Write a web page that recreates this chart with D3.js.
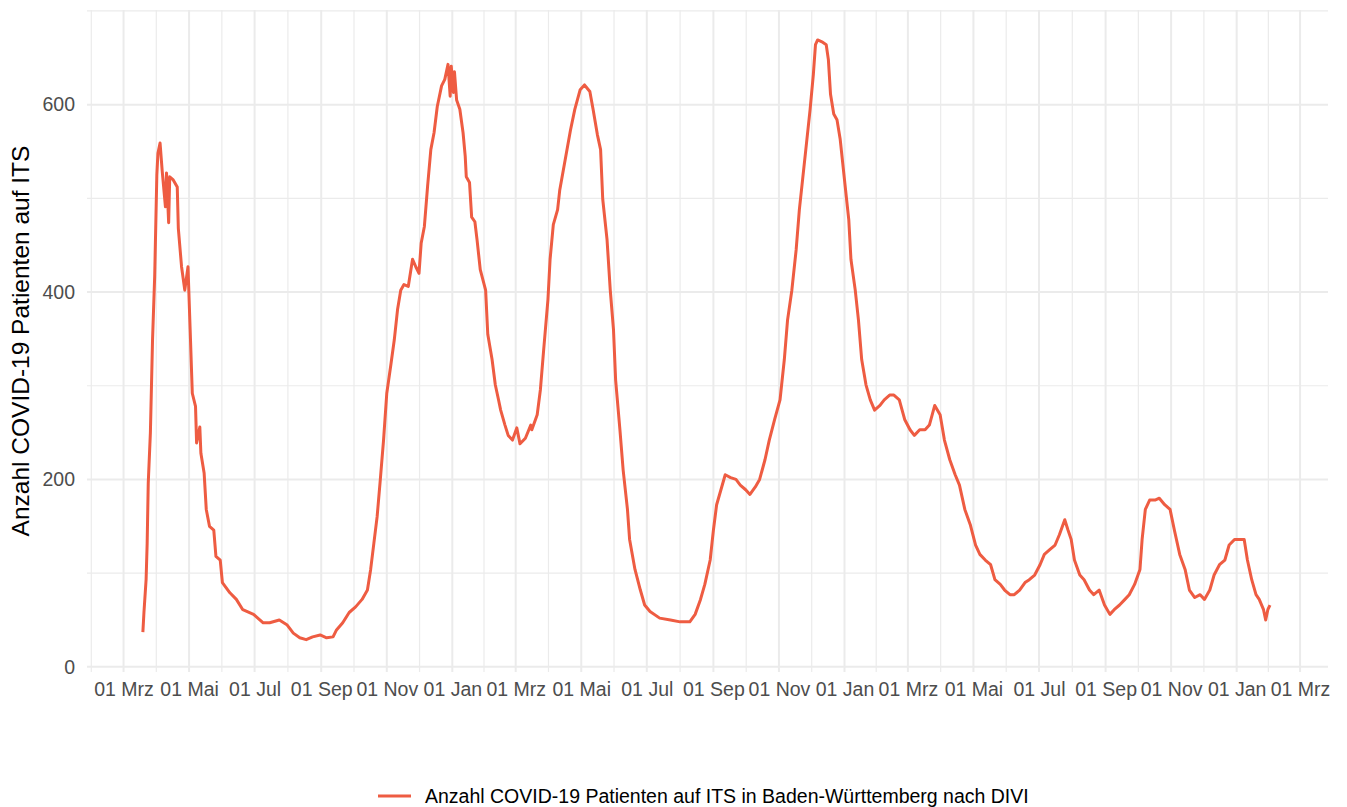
<!DOCTYPE html>
<html>
<head>
<meta charset="utf-8">
<script src="https://cdn.jsdelivr.net/npm/d3@7"></script>
<style>
  body { margin: 0; background: #fff; }
  svg { font-family: "Liberation Sans", Arial, sans-serif; }
</style>
</head>
<body>
<svg id="chart" width="1347" height="807"></svg>
<script>
// values (DIVI, Baden-Württemberg)
const dates = [
  "2020-03-19","2020-03-20","2020-03-22","2020-03-23","2020-03-24","2020-03-26","2020-03-28","2020-03-30",
  "2020-04-01","2020-04-02","2020-04-04","2020-04-06","2020-04-09","2020-04-10","2020-04-12","2020-04-13",
  "2020-04-16","2020-04-20","2020-04-21","2020-04-24","2020-04-27","2020-04-30","2020-05-02","2020-05-04",
  "2020-05-07","2020-05-08","2020-05-11","2020-05-12","2020-05-15","2020-05-17","2020-05-20","2020-05-24",
  "2020-05-26","2020-05-30","2020-06-01","2020-06-08","2020-06-14","2020-06-20","2020-06-30","2020-07-09",
  "2020-07-15","2020-07-24","2020-07-31","2020-08-06","2020-08-12","2020-08-18","2020-08-24","2020-08-31",
  "2020-09-06","2020-09-12","2020-09-15","2020-09-21","2020-09-27","2020-10-03","2020-10-09","2020-10-14",
  "2020-10-17","2020-10-20","2020-10-23","2020-10-26","2020-10-29","2020-11-01","2020-11-05","2020-11-08",
  "2020-11-11","2020-11-14","2020-11-17","2020-11-21","2020-11-25","2020-11-28","2020-12-01","2020-12-03",
  "2020-12-06","2020-12-09","2020-12-12","2020-12-15","2020-12-18","2020-12-22","2020-12-25","2020-12-28",
  "2020-12-30","2020-12-31","2021-01-02","2021-01-03","2021-01-05","2021-01-08","2021-01-11","2021-01-13",
  "2021-01-14","2021-01-17","2021-01-19","2021-01-22","2021-01-24","2021-01-27","2021-02-01","2021-02-03",
  "2021-02-07","2021-02-10","2021-02-13","2021-02-15","2021-02-19","2021-02-22","2021-02-26","2021-03-02",
  "2021-03-05","2021-03-10","2021-03-15","2021-03-16","2021-03-21","2021-03-24","2021-03-27","2021-03-31",
  "2021-04-02","2021-04-05","2021-04-09","2021-04-11","2021-04-16","2021-04-21","2021-04-25","2021-04-30",
  "2021-05-04","2021-05-09","2021-05-12","2021-05-16","2021-05-19","2021-05-21","2021-05-25","2021-05-28",
  "2021-05-31","2021-06-02","2021-06-06","2021-06-09","2021-06-13","2021-06-15","2021-06-20","2021-06-25",
  "2021-06-29","2021-07-04","2021-07-13","2021-07-23","2021-08-01","2021-08-10","2021-08-15","2021-08-20",
  "2021-08-24","2021-08-29","2021-09-01","2021-09-04","2021-09-08","2021-09-12","2021-09-17","2021-09-22",
  "2021-09-26","2021-10-01","2021-10-05","2021-10-10","2021-10-14","2021-10-19","2021-10-23","2021-10-28",
  "2021-11-02","2021-11-06","2021-11-09","2021-11-13","2021-11-17","2021-11-20","2021-11-23","2021-11-26",
  "2021-11-30","2021-12-03","2021-12-05","2021-12-07","2021-12-11","2021-12-15","2021-12-17","2021-12-19",
  "2021-12-22","2021-12-25","2021-12-28","2022-01-02","2022-01-05","2022-01-07","2022-01-11","2022-01-14",
  "2022-01-17","2022-01-21","2022-01-25","2022-01-29","2022-02-03","2022-02-07","2022-02-12","2022-02-16",
  "2022-02-21","2022-02-26","2022-03-03","2022-03-07","2022-03-12","2022-03-17","2022-03-21","2022-03-26",
  "2022-03-31","2022-04-04","2022-04-09","2022-04-14","2022-04-18","2022-04-23","2022-04-28","2022-05-03",
  "2022-05-07","2022-05-12","2022-05-17","2022-05-21","2022-05-26","2022-05-30","2022-06-04","2022-06-08",
  "2022-06-13","2022-06-18","2022-06-22","2022-06-27","2022-07-02","2022-07-06","2022-07-11","2022-07-16",
  "2022-07-20","2022-07-25","2022-07-28","2022-07-31","2022-08-03","2022-08-08","2022-08-12","2022-08-17",
  "2022-08-21","2022-08-26","2022-08-31","2022-09-05","2022-09-09","2022-09-14","2022-09-19","2022-09-23",
  "2022-09-28","2022-10-03","2022-10-05","2022-10-08","2022-10-12","2022-10-17","2022-10-21","2022-10-26",
  "2022-10-31","2022-11-04","2022-11-09","2022-11-14","2022-11-18","2022-11-23","2022-11-28","2022-12-02",
  "2022-12-07","2022-12-11","2022-12-16","2022-12-21","2022-12-25","2022-12-30","2023-01-04","2023-01-08",
  "2023-01-11","2023-01-15","2023-01-19","2023-01-22","2023-01-26","2023-01-28","2023-01-30","2023-02-01"
];
const patients = [
  37, 58, 93, 132, 196, 250, 349, 417,
  525, 548, 559, 529, 491, 527, 474, 523,
  520, 512, 468, 427, 402, 427, 360, 292,
  278, 239, 256, 228, 207, 168, 150, 146,
  118, 114, 90, 79, 72, 61, 56, 47,
  47, 50, 45, 36, 31, 29, 32, 34,
  31, 32, 39, 47, 58, 64, 72, 82,
  104, 132, 160, 200, 242, 292, 324, 349,
  381, 402, 408, 406, 435, 427, 420, 452,
  470, 513, 552, 570, 598, 620, 627, 643,
  609, 641, 613, 635, 605, 595, 570, 545,
  523, 517, 480, 475, 456, 424, 402, 355,
  328, 301, 285, 274, 258, 247, 242, 255,
  238, 244, 258, 253, 269, 296, 338, 392,
  435, 472, 488, 509, 541, 573, 595, 616,
  621, 614, 595, 568, 552, 499, 456, 402,
  360, 306, 253, 210, 168, 136, 104, 82,
  66, 59, 52, 50, 48, 48, 56, 72,
  88, 114, 146, 173, 189, 205, 202, 200,
  194, 189, 184, 192, 200, 221, 242, 264,
  285, 328, 370, 402, 445, 488, 520, 552,
  595, 632, 664, 669, 667, 664, 648, 611,
  590, 584, 563, 509, 477, 435, 402, 370,
  328, 301, 285, 274, 279, 285, 290, 290,
  285, 264, 253, 247, 253, 253, 258, 279,
  269, 242, 221, 205, 194, 168, 152, 130,
  120, 114, 109, 93, 88, 82, 77, 77,
  82, 90, 93, 98, 109, 120, 125, 130,
  141, 157, 146, 136, 114, 98, 93, 82,
  77, 82, 66, 56, 61, 66, 72, 77,
  88, 104, 136, 168, 178, 178, 180, 173,
  168, 146, 120, 104, 82, 74, 77, 72,
  82, 98, 109, 114, 130, 136, 136, 136,
  114, 93, 77, 72, 61, 50, 61, 66
];
const yTicks = [0, 200, 400, 600];
const yMinor = [100, 300, 500, 700];
const monthsDe = ["Jan","Feb","Mrz","Apr","Mai","Jun","Jul","Aug","Sep","Okt","Nov","Dez"];
const seriesName = "Anzahl COVID-19 Patienten auf ITS in Baden-Württemberg nach DIVI";
const yTitle = "Anzahl COVID-19 Patienten auf ITS";

const parse = d3.timeParse("%Y-%m-%d");
const data = dates.map((d, i) => ({date: parse(d), value: patients[i]}));

const de = d3.timeFormatLocale({
  dateTime: "%A, %e. %B %Y, %X", date: "%d.%m.%Y", time: "%H:%M:%S",
  periods: ["AM", "PM"],
  days: ["Sonntag","Montag","Dienstag","Mittwoch","Donnerstag","Freitag","Samstag"],
  shortDays: ["So","Mo","Di","Mi","Do","Fr","Sa"],
  months: ["Januar","Februar","März","April","Mai","Juni","Juli","August","September","Oktober","November","Dezember"],
  shortMonths: monthsDe
});
const fmt = de.format("%d %b");

const svg = d3.select("#chart");
const pLeft = 87, pRight = 1328, pTop = 10, pBottom = 672;

const x = d3.scaleTime()
    .domain([parse("2020-01-27"), parse("2023-03-27")])
    .range([pLeft, pRight]);
const y = d3.scaleLinear()
    .domain([-5.5, 701])
    .range([pBottom, pTop]);

// grid
const grid = svg.append("g");
const majorX = d3.timeMonth.every(2).range(parse("2020-01-01"), parse("2023-05-02"));
const minorX = d3.pairs(majorX).map(([a, b]) => new Date((+a + +b) / 2))
    .filter(d => d >= x.domain()[0] && d <= x.domain()[1]);
const majorIn = majorX.filter(d => d >= x.domain()[0] && d <= x.domain()[1]);

grid.selectAll(".ymin").data(yMinor).enter().append("line")
    .attr("x1", pLeft).attr("x2", pRight)
    .attr("y1", d => y(d)).attr("y2", d => y(d))
    .attr("stroke", "#ebebeb").attr("stroke-width", 1.2);
grid.selectAll(".xmin").data(minorX).enter().append("line")
    .attr("x1", d => x(d)).attr("x2", d => x(d))
    .attr("y1", pTop).attr("y2", pBottom)
    .attr("stroke", "#ebebeb").attr("stroke-width", 1.2);
grid.selectAll(".ymaj").data(yTicks).enter().append("line")
    .attr("x1", pLeft).attr("x2", pRight)
    .attr("y1", d => y(d)).attr("y2", d => y(d))
    .attr("stroke", "#ebebeb").attr("stroke-width", 2);
grid.selectAll(".xmaj").data(majorIn).enter().append("line")
    .attr("x1", d => x(d)).attr("x2", d => x(d))
    .attr("y1", pTop).attr("y2", pBottom)
    .attr("stroke", "#ebebeb").attr("stroke-width", 2);

// axes (labels only, ggplot minimal look)
const xAxis = svg.append("g")
    .attr("transform", `translate(0,${pBottom + 2})`)
    .call(d3.axisBottom(x).tickValues(majorIn).tickFormat(fmt).tickSize(0).tickPadding(8));
xAxis.select(".domain").remove();
xAxis.selectAll("text")
    .attr("font-size", "19.5px")
    .attr("font-family", "Liberation Sans, Arial, sans-serif")
    .attr("fill", "#4d4d4d");

const yAxis = svg.append("g")
    .attr("transform", `translate(${pLeft},0)`)
    .call(d3.axisLeft(y).tickValues(yTicks).tickSize(0).tickPadding(12));
yAxis.select(".domain").remove();
yAxis.selectAll("text")
    .attr("font-size", "19.5px")
    .attr("font-family", "Liberation Sans, Arial, sans-serif")
    .attr("fill", "#4d4d4d");

svg.append("text")
    .attr("transform", `translate(29,${(pTop + pBottom) / 2}) rotate(-90)`)
    .attr("text-anchor", "middle")
    .attr("font-size", "24.5px")
    .attr("fill", "#000")
    .text(yTitle);

// series
const line = d3.line()
    .x(d => x(d.date))
    .y(d => y(d.value));
svg.append("path")
    .datum(data)
    .attr("fill", "none")
    .attr("stroke", "#ee5c42")
    .attr("stroke-width", 3)
    .attr("stroke-linejoin", "round")
    .attr("d", line);

// legend
const legend = svg.append("g").attr("transform", "translate(378,796)");
legend.append("line")
    .attr("x1", 0).attr("x2", 33).attr("y1", 0).attr("y2", 0)
    .attr("stroke", "#ee5c42").attr("stroke-width", 3);
legend.append("text")
    .attr("x", 47).attr("y", 0).attr("dy", "0.35em")
    .attr("font-size", "19.5px")
    .attr("fill", "#000")
    .text(seriesName);
</script>
</body>
</html>
